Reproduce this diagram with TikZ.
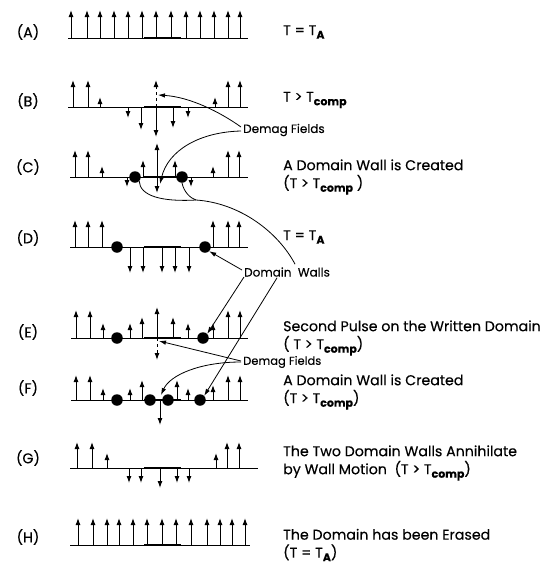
\documentclass[tikz,border=0pt]{standalone}
\usepackage{fontspec}
\setmainfont{Poppins}[FakeBold=0.3]
\usetikzlibrary{arrows.meta}
\newcommand{\txt}{\fontsize{14.2}{18}\selectfont}
\newcommand{\smtxt}{\fontsize{12}{14}\selectfont}
\newcommand{\lowsub}[1]{\raisebox{-0.45ex}{\fontsize{11}{11}\selectfont\bfseries #1}}
\newcommand{\spins}[2]{\foreach \x/\t in {#2}{\draw[spin] (\x,#1) -- (\x,\t);}}
\newcommand{\film}[3]{\draw[base] (#2,#1) -- (#3,#1); \draw[midbase] (144,#1) -- (181,#1);}
\tikzset{
  spin/.style={line width=1pt, -{Latex[length=7pt,width=5pt]}},
  base/.style={line width=1pt},
  midbase/.style={line width=1.3pt},
  wall/.style={circle, fill=black, inner sep=0pt, minimum size=11.5pt},
  lbl/.style={anchor=west, inner sep=0pt, font=\txt, align=left},
  tag/.style={inner sep=0pt, font=\txt},
  annlbl/.style={anchor=west, inner sep=0pt, font=\smtxt},
  ann/.style={line width=0.8pt},
  anna/.style={line width=0.8pt, -{Latex[length=7pt,width=4.5pt]}},
}
\begin{document}
\begin{tikzpicture}[x=1pt,y=-1pt]
\useasboundingbox[fill=white] (0,0) rectangle (546,568);

% row labels
\node[tag] (tA) at (28,32) {(A)};
\node[tag] (tB) at (28,101) {(B)};
\node[tag] (tC) at (28,167) {(C)};
\node[tag] (tD) at (28,238) {(D)};
\node[tag] (tE) at (28,332) {(E)};
\node[tag] (tF) at (28,388) {(F)};
\node[tag] (tG) at (28,458) {(G)};
\node[tag] (tH) at (28,537) {(H)};

% right texts
\node[lbl] (xA) at (283,32) {T = T\lowsub{A}};
\node[lbl] (xB) at (283,100) {T > T\lowsub{comp}};
\node[lbl] (xC) at (283,177) {A Domain Wall is Created\\(T > T\lowsub{comp} )};
\node[lbl] (xD) at (283,237) {T = T\lowsub{A}};
\node[lbl] (xE) at (283,338) {Second Pulse on the Written Domain\\( T > T\lowsub{comp})};
\node[lbl] (xF) at (283,392) {A Domain Wall is Created\\(T > T\lowsub{comp})};
\node[lbl] (xG) at (283,463) {The Two Domain Walls Annihilate\\by Wall Motion\ \ (T > T\lowsub{comp})};
\node[lbl] (xH) at (283,545) {The Domain has been Erased\\(T = T\lowsub{A})};

% (A)
\film{38}{68}{248}
\spins{38}{71/10,87/10,100/10,114/10,128/10,142/10,156/10,171/10,186/10,200/10,214/10,228/10,240/10}

% (B)
\film{107}{68}{248}
\spins{107}{73/80,88/80,100/97,215/97,228/80,240/80,128/118,141/130,156/137,173/128,188/118}
\draw[spin,dashed] (156,107) -- (156,80);

% (C)
\film{177}{70}{248}
\spins{177}{75/150,88/150,102/166,143/160,157/143,175/160,213/166,228/150,239/150,127/187,157/193,191/187}
\node[wall] (c1) at (135,177) {};
\node[wall] (c2) at (182,177) {};

% (D)
\film{247}{70}{248}
\spins{247}{75/220,88/220,102/220,213/220,228/220,239/220,130/273,143/273,162/273,175/273,189/273}
\node[wall] (d1) at (117,247) {};
\node[wall] (d2) at (205,247) {};

% (E)
\film{338}{71}{248}
\spins{338}{76/310,90/310,103/323,130/323,142/317,157/307,173/317,188/323,213/323,228/310,240/310}
\draw[spin,dashed] (157,338) -- (157,360);
\node[wall] (e1) at (117,338) {};
\node[wall] (e2) at (203,338) {};

% (F)
\film{400}{71}{248}
\spins{400}{76/375,90/375,103/388,130/388,142/380,177/380,188/388,213/385,228/375,240/375,160/425}
\node[wall] (f1) at (117,400) {};
\node[wall] (f2) at (150,400) {};
\node[wall] (f3) at (168,400) {};
\node[wall] (f4) at (200,400) {};

% (G)
\film{468}{70}{258}
\spins{468}{77/442,92/442,107/453,216/453,227/442,239/442,129/483,141/483,160/488,177/483,189/483}

% (H)
\film{545}{70}{250}
\spins{545}{78/518,93/518,107/518,119/518,133/518,147/518,162/518,176/518,191/518,207/518,220/518,232/518,245/518}

% annotations
\node[annlbl] (dm1) at (243,130) {Demag Fields};
\node[annlbl] (dw) at (244,272) {Domain\ \ Walls};
\node[annlbl, font=\fontsize{11.5}{13}\selectfont] (dm2) at (243,362) {Demag Fields};

\coordinate (bTip) at (158,95);
\coordinate (cTip) at (160,184);
\coordinate (wj) at (196,200);
\coordinate (eTip) at (159,341);
\coordinate (fTip) at (161,395);

\draw[anna] (dm1.west) ++(-2,-3) .. controls (220,112) and (190,97) .. (bTip);
\draw[anna] (dm1.west) ++(-2,1) .. controls (200,132) and (168,150) .. (cTip);

\draw[ann] (dw.north) ++(8,-3) .. controls (278,232) and (240,203) .. (wj);
\draw[ann] (wj) .. controls (162,202) and (140,196) .. (c1.south east);
\draw[ann] (wj) .. controls (190,198) and (184,192) .. (c2.south);
\draw[anna] (dw.west) ++(-2,-2) -- (d2.south east);
\draw[anna] (dw.west) ++(0,5) -- (e2.north east);
\draw[anna] (dw.south) ++(-10,1) -- (f4.north east);

\draw[anna] (dm2.west) ++(-2,-1) -- (eTip);
\draw[anna] (dm2.west) ++(-2,0) .. controls (200,362) and (170,375) .. (fTip);
\end{tikzpicture}
\end{document}
